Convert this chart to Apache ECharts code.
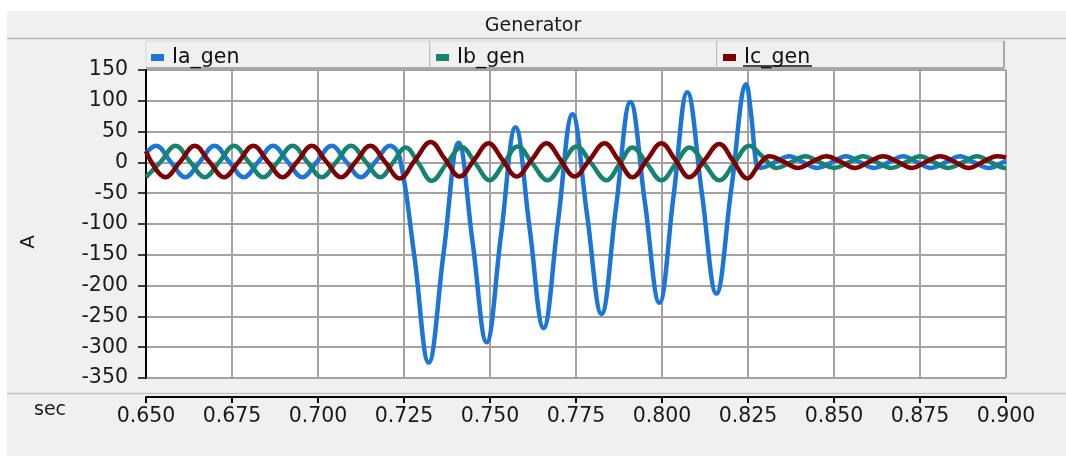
<!DOCTYPE html>
<html>
<head>
<meta charset="utf-8">
<title>Generator</title>
<script src="https://cdn.jsdelivr.net/npm/echarts/dist/echarts.min.js"></script>
<style>
  html, body { margin: 0; padding: 0; background: #fff; }
  #chart { width: 1066px; height: 456px; }
</style>
</head>
<body>
<div id="chart"></div>
<script>
// x axis ticks (sec) and y axis ticks (A)
const xTicks = [0.650, 0.675, 0.700, 0.725, 0.750, 0.775, 0.800, 0.825, 0.850, 0.875, 0.900]
const yTicks = [-350, -300, -250, -200, -150, -100, -50, 0, 50, 100, 150]

// Ia_gen: time (s) / current (A), read at peaks, troughs and mid points
const tA = [0.65, 0.6529, 0.65716, 0.66141, 0.66566, 0.66992, 0.67417, 0.67843, 0.68268, 0.68693,
  0.69119, 0.69544, 0.6997, 0.70395, 0.7082, 0.71246, 0.71671, 0.72096, 0.72375, 0.72796,
  0.73217, 0.73653, 0.74088, 0.74495, 0.74901, 0.75322, 0.75743, 0.7615, 0.76556, 0.76977,
  0.77398, 0.77819, 0.7824, 0.78661, 0.79082, 0.79503, 0.79924, 0.80331, 0.80737, 0.81159,
  0.8158, 0.82015, 0.82451, 0.82596, 0.82741, 0.82857, 0.83278, 0.83699, 0.84106, 0.84512,
  0.84933, 0.85354, 0.85761, 0.86167, 0.86588, 0.87009, 0.87416, 0.87822, 0.88243, 0.88664,
  0.89071, 0.89506, 0.89913, 0.9]
const ia = [15, 27, 1, -24, 1, 27, 1, -24, 1, 27,
  1, -24, 1, 27, 1, -24, 1, 27, 8, -150,
  -325, -146, 32, -130, -292, -117, 57, -106, -269, -96,
  78, -84, -246, -74, 98, -65, -228, -57, 114, -50,
  -213, -43, 127, 75, -2, -9, 0, 10, 0, -9,
  0, 10, 0, -9, 0, 10, 0, -9, 0, 10,
  0, -9, 0, 2]

// Ib_gen
const tB = [0.65, 0.65431, 0.65857, 0.66282, 0.66707, 0.67133, 0.67558, 0.67983, 0.68409, 0.68834,
  0.6926, 0.69685, 0.7011, 0.70536, 0.70961, 0.71386, 0.71812, 0.72186, 0.72549, 0.72927,
  0.73304, 0.7374, 0.74175, 0.74582, 0.74988, 0.75395, 0.75801, 0.76237, 0.76672, 0.77093,
  0.77515, 0.7795, 0.78386, 0.78763, 0.79141, 0.79562, 0.79983, 0.80389, 0.80796, 0.81231,
  0.81667, 0.82102, 0.82538, 0.8293, 0.83322, 0.83743, 0.84164, 0.84585, 0.85006, 0.85427,
  0.85848, 0.86254, 0.86661, 0.87082, 0.87503, 0.87909, 0.88316, 0.88737, 0.89158, 0.89564,
  0.89971, 0.9]
const ib = [-24, 1, 27, 1, -24, 1, 27, 1, -24, 1,
  27, 1, -24, 1, 27, 1, -24, 0, 24, -2,
  -30, -2, 25, -2, -29, -2, 26, -2, -29, -2,
  26, -2, -29, -3, 24, -2, -29, -3, 24, -2,
  -29, -1, 27, 9, -9, 0, 10, 0, -9, 0,
  10, 0, -9, 0, 10, 0, -9, 0, 10, 0,
  -9, -9]

// Ic_gen
const tC = [0.65, 0.65566, 0.65992, 0.66417, 0.66842, 0.67268, 0.67693, 0.68118, 0.68544, 0.68969,
  0.69395, 0.6982, 0.70245, 0.70671, 0.71096, 0.71521, 0.71947, 0.72372, 0.72825, 0.73275,
  0.73696, 0.74117, 0.74538, 0.74959, 0.75366, 0.75772, 0.76208, 0.76643, 0.7705, 0.77456,
  0.77892, 0.78328, 0.78734, 0.79141, 0.79562, 0.79983, 0.80389, 0.80796, 0.81231, 0.81667,
  0.82073, 0.8248, 0.82828, 0.83119, 0.8354, 0.83961, 0.84367, 0.84774, 0.85195, 0.85616,
  0.86022, 0.86429, 0.8685, 0.87271, 0.87677, 0.88084, 0.88505, 0.88926, 0.89332, 0.89739,
  0.9]
const ic = [18, -24, 1, 27, 1, -24, 1, 27, 1, -24,
  1, 27, 1, -24, 1, 27, 1, -26, 4, 33,
  5, -23, 4, 31, 4, -23, 4, 31, 4, -23,
  4, 31, 4, -24, 4, 31, 4, -24, 3, 30,
  2, -26, -3, 10, 1, -9, 1, 10, 1, -9,
  1, 10, 1, -9, 1, 10, 1, -9, 1, 10,
  8]

const FONT = 'DejaVu Sans, Verdana, sans-serif'

function pairs(ts, vs) {
  return ts.map((t, i) => [t, vs[i]])
}

const chart = echarts.init(document.getElementById('chart'), null, { renderer: 'canvas' })

const legendBase = {
  orient: 'horizontal',
  top: 47,
  padding: 0,
  itemWidth: 13,
  itemHeight: 7,
  icon: 'rect',
  selectedMode: false,
  textStyle: { fontFamily: FONT, fontSize: 20.5, color: '#111', padding: [0, 0, 0, 3] }
}

// legend tab boxes
function tab(x1, x2) {
  return [
    { type: 'rect', z: 1, shape: { x: x1, y: 41, width: x2 - x1, height: 27 },
      style: { fill: '#f0f0f0', stroke: '#d6d6d6', lineWidth: 1 } },
    { type: 'line', z: 1, shape: { x1: x2, y1: 41, x2: x2, y2: 68 },
      style: { stroke: '#a9a9a9', lineWidth: 2 } },
    { type: 'line', z: 1, shape: { x1: x1, y1: 68, x2: x2, y2: 68 },
      style: { stroke: '#a9a9a9', lineWidth: 2 } }
  ]
}

chart.setOption({
  animation: false,
  backgroundColor: '#f0f0f0',
  title: {
    text: 'Generator',
    left: 'center',
    top: 17,
    padding: 0,
    textStyle: { fontFamily: FONT, fontSize: 19, fontWeight: 'normal', color: '#1a1a1a' }
  },
  legend: [
    Object.assign({}, legendBase, { left: 151, data: ['Ia_gen'] }),
    Object.assign({}, legendBase, { left: 436, data: ['Ib_gen'] }),
    Object.assign({}, legendBase, { left: 723, data: ['Ic_gen'] })
  ],
  graphic: {
    elements: [
      { type: 'rect', z: 1, shape: { x: 0, y: 0, width: 1066, height: 11 }, style: { fill: '#fff' } },
      { type: 'rect', z: 1, shape: { x: 0, y: 0, width: 7, height: 456 }, style: { fill: '#fff' } },
      { type: 'line', z: 1, shape: { x1: 7, y1: 38.5, x2: 1066, y2: 38.5 },
        style: { stroke: '#b9b9b9', lineWidth: 1.5 } },
      { type: 'line', z: 1, shape: { x1: 7, y1: 393.5, x2: 1066, y2: 393.5 },
        style: { stroke: '#c2c2c2', lineWidth: 1.5 } },
      ...tab(146, 430),
      ...tab(430, 717),
      ...tab(717, 1004),
      // hover underline on Ic_gen
      { type: 'line', z: 5, shape: { x1: 743, y1: 66, x2: 812, y2: 66 },
        style: { stroke: '#111', lineWidth: 1.5 } },
      { type: 'text', z: 5, x: 29, y: 242, rotation: Math.PI / 2,
        style: { text: 'A', fontFamily: FONT, fontSize: 20, fill: '#1a1a1a', align: 'center', verticalAlign: 'middle' } },
      { type: 'text', z: 5, x: 50, y: 410,
        style: { text: 'sec', fontFamily: FONT, fontSize: 19, fill: '#1a1a1a', align: 'center', verticalAlign: 'middle' } }
    ]
  },
  grid: {
    left: 146,
    right: 60,
    top: 70,
    bottom: 78,
    show: true,
    backgroundColor: '#fff',
    borderWidth: 0
  },
  xAxis: {
    type: 'value',
    min: xTicks[0],
    max: xTicks[xTicks.length - 1],
    interval: 0.025,
    offset: 19,
    axisLine: { show: true, onZero: false, lineStyle: { color: '#000', width: 2 } },
    axisTick: { show: true, length: 6, lineStyle: { color: '#000', width: 2 } },
    axisLabel: {
      margin: 9,
      fontFamily: FONT,
      fontSize: 20.5,
      color: '#1a1a1a',
      formatter: function(v) { return v.toFixed(3) }
    },
    splitLine: { show: true, lineStyle: { color: '#a5a29f', width: 2 } }
  },
  yAxis: {
    type: 'value',
    min: yTicks[0],
    max: yTicks[yTicks.length - 1],
    interval: 50,
    axisLine: { show: true, onZero: false, lineStyle: { color: '#000', width: 2 } },
    axisTick: { show: true, length: 8, lineStyle: { color: '#000', width: 1.5 } },
    axisLabel: { margin: 18, fontFamily: FONT, fontSize: 20.5, color: '#1a1a1a' },
    splitLine: { show: true, lineStyle: { color: '#a5a29f', width: 2 } }
  },
  series: [
    {
      name: 'Ia_gen', type: 'line', showSymbol: false, smooth: 0.4,
      itemStyle: { color: '#1b76d8' },
      lineStyle: { color: '#1b76d8', width: 4.5 },
      data: pairs(tA, ia)
    },
    {
      name: 'Ib_gen', type: 'line', showSymbol: false, smooth: 0.4,
      itemStyle: { color: '#168270' },
      lineStyle: { color: '#168270', width: 4.5 },
      data: pairs(tB, ib)
    },
    {
      name: 'Ic_gen', type: 'line', showSymbol: false, smooth: 0.4,
      itemStyle: { color: '#7e0000' },
      lineStyle: { color: '#7e0000', width: 4.5 },
      data: pairs(tC, ic)
    }
  ]
})
</script>
</body>
</html>
